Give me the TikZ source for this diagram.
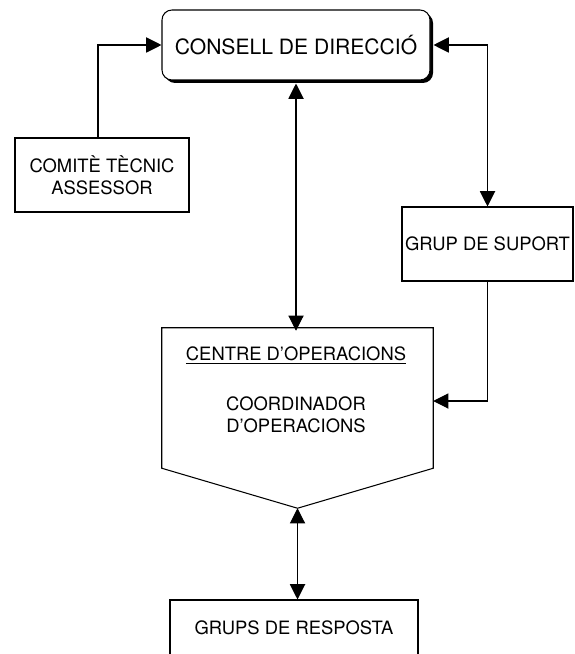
\documentclass[tikz,border=0pt]{standalone}
\usepackage{fontspec}
\setmainfont{TeX Gyre Heros}
\usetikzlibrary{arrows.meta, shadows}

\begin{document}
\begin{tikzpicture}[
    x=0.03cm, y=-0.03cm,
    every node/.style={font=\fontsize{15.7}{18.5}\selectfont},
    >={Triangle[length=13pt, width=13pt]},
    link/.style={line width=0.9pt},
    box/.style={draw, line width=0.9pt, align=center, inner sep=0pt},
]

\useasboundingbox (0,0) rectangle (574,654);

% === Boxes ===
% Top: rounded, with shadow
\node[box, rounded corners=0.3cm, fill=white,
      minimum width=8.04cm, minimum height=2.1cm,
      drop shadow={shadow xshift=0.09cm, shadow yshift=-0.09cm, fill=black, opacity=1},
      font=\fontsize{18}{22}\selectfont]
    (consell) at (296,45) {CONSELL DE DIRECCIÓ};

\node[box, minimum width=5.22cm, minimum height=2.22cm]
    (comite) at (102,175) {COMITÈ TÈCNIC\\ASSESSOR};

\node[box, minimum width=5.13cm, minimum height=2.22cm]
    (suport) at (487.5,244) {GRUP DE SUPORT};

\node[box, minimum width=7.44cm, minimum height=1.68cm]
    (resposta) at (294,628) {GRUPS DE RESPOSTA};

% === Centre (pentagon pointing down) ===
\node[minimum width=8.13cm, minimum height=4.2cm, inner sep=0pt]
    (centre) at (297.5,398) {};
\path (centre.south) ++(0,40) coordinate (tip);
\draw[link] (centre.north west) -- (centre.north east) -- (centre.south east)
    -- (tip) -- (centre.south west) -- cycle;
\node[align=center] (centretxt) at (296,390)
    {\underline{CENTRE D’OPERACIONS}\\[24pt]COORDINADOR\\D’OPERACIONS};

% === Connectors ===
\draw[link, ->] ([xshift=-0.12cm]comite.north) |- (consell.west);
\draw[link, <->] ([xshift=0.09cm]consell.east) -| (suport.north);
\draw[link, <->] ([yshift=-0.09cm]consell.south)
    -- ([yshift=-0.09cm]consell.south |- centre.north);
\draw[link, ->] (suport.south) |- ([yshift=-0.09cm]centre.east);
\draw[link, <->] (tip) -- (tip |- resposta.north);

\end{tikzpicture}
\end{document}
